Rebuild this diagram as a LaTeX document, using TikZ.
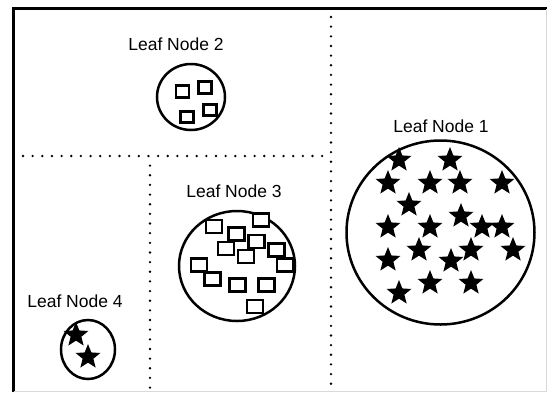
\documentclass[tikz,border=0pt]{standalone}
\usepackage{fontspec}
\setmainfont{Liberation Sans}
\usetikzlibrary{shapes}

\begin{document}
\begin{tikzpicture}[x=1pt, y=-1pt,
  leaf/.style={ellipse, draw, line width=2.5pt, inner sep=0pt},
  box/.style={rectangle, draw, fill=white, line width=2.8pt, inner sep=0pt},
  pt/.style={star, star points=5, star point ratio=2.3, fill=black, minimum size=26pt, inner sep=0pt},
  caption/.style={font=\fontsize{17.5}{17.5}\selectfont, inner sep=0pt},
  split/.style={line width=2.6pt, line cap=round, dash pattern=on 0pt off 9.65pt}
]
  \useasboundingbox (0,0) rectangle (547,392);

  % frame
  \draw[line width=3pt] (13.5,392) -- (13.5,8.5) -- (547,8.5);
  \draw[gray!30, line width=0.8pt] (13.5,391.6) -- (546.6,391.6) -- (546.6,8.5);

  % partitions
  \draw[split] (331,17) -- (331,392);
  \draw[split] (23,156) -- (325,156);
  \draw[split] (150,165.6) -- (150,392);

  % leaves
  \node[leaf, minimum width=68pt, minimum height=66pt] (l2) at (191,97) {};
  \node[leaf, minimum width=116pt, minimum height=110pt] (l3) at (237,266) {};
  \node[leaf, minimum width=188pt, minimum height=184pt] (l1) at (440.5,232.5) {};
  \node[leaf, minimum width=54pt, minimum height=59pt] (l4) at (88,349.5) {};

  % labels
  \node[caption] (t2) at (176,44) {Leaf Node 2};
  \node[caption] (t3) at (234,191) {Leaf Node 3};
  \node[caption] (t1) at (441,126) {Leaf Node 1};
  \node[caption] (t4) at (75,301) {Leaf Node 4};

  % points
  \foreach \p [count=\i] in {(182.5,91.5),(205,87.5),(210,110),(187,117)}
    \node[box, minimum width=13pt, minimum height=11.5pt] (a\i) at \p {};
  \foreach \p [count=\i] in {(214,226.5),(261,220),(236.5,234),(226,248.5),(256.5,241.5),
      (246,256.5),(276.5,250),(285,265),(199,265),(212.5,279),(237.5,285),(266.5,285),(255,306.5)}
    \node[box, minimum width=16pt, minimum height=13pt] (b\i) at \p {};
  \foreach \p [count=\i] in {(399,160),(450,160),(388,183),(430,183),(460,183),(502,183),
      (409,205),(461,216),(388,227),(430,227),(482,227),(502,227),(419,250),(471,250),
      (513,250),(388,260),(451,261),(430,283),(471,283),(399,293)}
    \node[pt] (c\i) at \p {};
  \node[pt] (d1) at (76,335) {};
  \node[pt] (d2) at (88,357) {};
\end{tikzpicture}
\end{document}
